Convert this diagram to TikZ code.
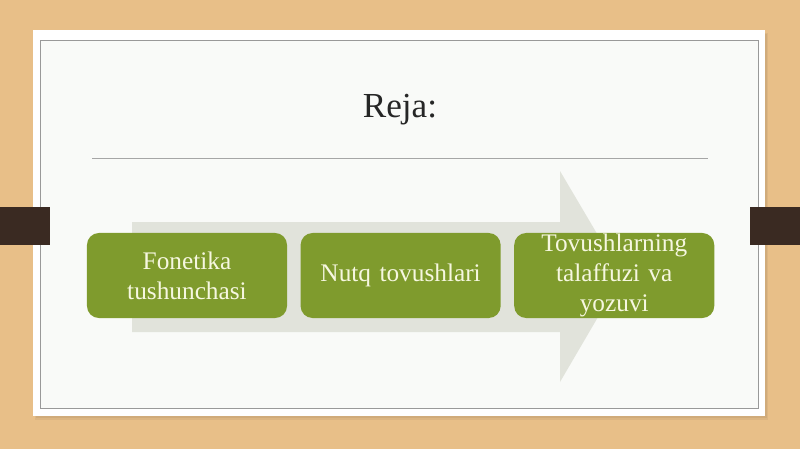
\documentclass[tikz,border=0pt]{standalone}
\usepackage{fontspec}
\setmainfont{Liberation Serif}
\usetikzlibrary{positioning}
\definecolor{wood}{HTML}{E8BF88}
\definecolor{card}{HTML}{F9FAF8}
\definecolor{tab}{HTML}{3A2A22}
\definecolor{pale}{HTML}{E1E3DB}
\definecolor{leaf}{HTML}{7F9B2D}
\definecolor{leaftext}{HTML}{F6F7E0}
\tikzset{
  stage/.style={rectangle, rounded corners=0.3cm, fill=leaf, text=leaftext,
    minimum width=5cm, minimum height=2.125cm, text width=4.7cm, align=center,
    inner sep=0pt, font=\fontsize{18}{21.5}\selectfont},
  title/.style={font=\fontsize{25}{30}\selectfont, text=black!85}
}
\begin{document}
\begin{tikzpicture}[x=0.025cm,y=-0.025cm]
  % background and slide card
  \fill[wood] (0,0) rectangle (800,449);
  \fill[black,opacity=0.05] (35,33) rectangle (768,420);
  \fill[black,opacity=0.05] (36,34) rectangle (767,418);
  \fill[white] (33,30) rectangle (765,416);
  \fill[card] (40,40) rectangle (758,408);
  \draw[black!40,line width=0.6pt] (40,40) rectangle (758,408);
  \fill[tab] (0,207) rectangle (50,245);
  \fill[tab] (750,207) rectangle (800,245);
  % title
  \node[title] (reja) at (400,110) {Reja:};
  \coordinate (rule-l) at (92,158);
  \coordinate (rule-r) at (708,158);
  \draw[black!35,line width=0.5pt] (rule-l) -- (rule-r);
  % big arrow
  \fill[pale] (132,222) -- (560,222) -- (560,171) -- (622,276)
    -- (560,382) -- (560,332) -- (132,332) -- cycle;
  % stages
  \node[stage] (fon) at (187,275.5) {Fonetika\\tushunchasi};
  \node[stage, right=0.325cm of fon] (nutq) {Nutq tovushlari};
  \node[stage, right=0.325cm of nutq] (yoz) {Tovushlarning\\talaffuzi va\\yozuvi};
\end{tikzpicture}
\end{document}
